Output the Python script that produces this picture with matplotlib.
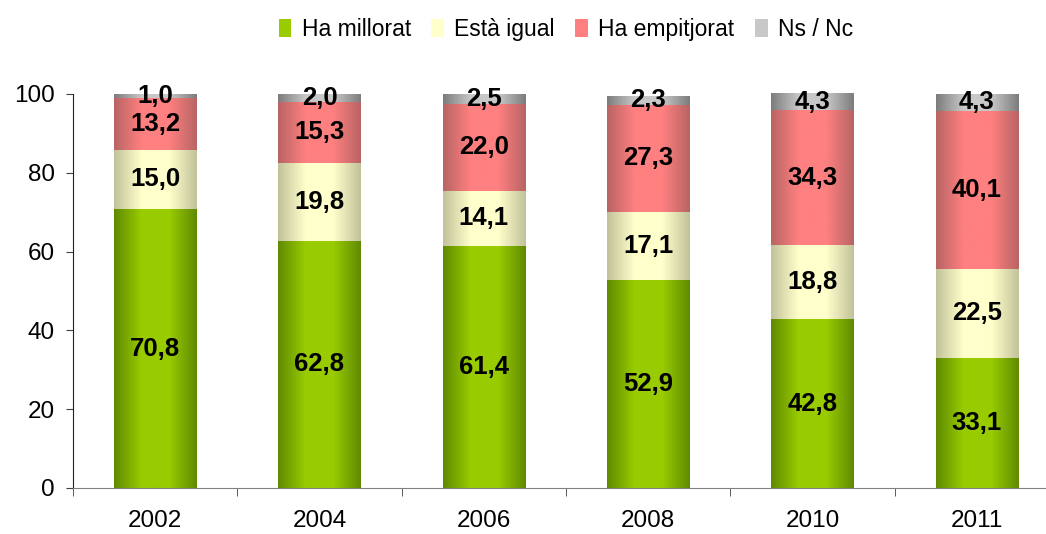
import numpy as np
import matplotlib
matplotlib.use('Agg')
import matplotlib.pyplot as plt
from matplotlib.colors import LinearSegmentedColormap
from matplotlib.patches import Patch

plt.rcParams['font.family'] = ['Liberation Sans', 'DejaVu Sans']

years = ['2002', '2004', '2006', '2008', '2010', '2011']
millorat = [70.8, 62.8, 61.4, 52.9, 42.8, 33.1]
igual = [15.0, 19.8, 14.1, 17.1, 18.8, 22.5]
empitjorat = [13.2, 15.3, 22.0, 27.3, 34.3, 40.1]
nsnc = [1.0, 2.0, 2.5, 2.3, 4.3, 4.3]
names = ['Ha millorat', 'Està igual', 'Ha empitjorat', 'Ns / Nc']

# (edge colour, centre colour) for the horizontal shading of each series
shades = [('#5f8a00', '#99cc00'),
          ('#c2c29a', '#ffffcc'),
          ('#b86464', '#ff8080'),
          ('#7c7c7c', '#c8c8c8')]

fig = plt.figure(figsize=(10.46, 5.34), dpi=100)
ax = fig.add_axes([73 / 1046, 46 / 534, 986 / 1046, 394 / 534])

x = np.arange(len(years))
grad = np.linspace(0, 1, 256).reshape(1, -1)
bottom = np.zeros(len(years))
for vals, (dark, light) in zip([millorat, igual, empitjorat, nsnc], shades):
    cmap = LinearSegmentedColormap.from_list('s', [dark, light, light, dark])
    bars = ax.bar(x, vals, 0.5, bottom=bottom, color=light, linewidth=0)
    for b in bars:
        x0, y0 = b.get_x(), b.get_y()
        im = ax.imshow(grad, cmap=cmap, aspect='auto',
                       extent=[x0, x0 + b.get_width(), y0, y0 + b.get_height()],
                       zorder=b.get_zorder())
        im.set_clip_path(b)
    for xi, b0, v in zip(x, bottom, vals):
        ax.text(xi, b0 + v / 2, f'{v:.1f}'.replace('.', ','), ha='center', va='center',
                fontsize=18.5, fontweight='bold', zorder=5)
    bottom = bottom + np.array(vals)

ax.set_xlim(-0.5, len(years) - 0.5)
ax.set_ylim(0, 100)
ax.set_yticks(range(0, 101, 20))
ax.tick_params(axis='y', labelsize=17.5, length=5, direction='out', color='#404040', pad=8)
ax.set_xticks(x)
ax.set_xticklabels(years)
ax.set_xticks(np.arange(-0.5, len(years)), minor=True)
ax.tick_params(axis='x', which='major', length=0, labelsize=17.5, pad=16)
ax.tick_params(axis='x', which='minor', length=6, direction='out', color='#404040')
for s in ['top', 'right']:
    ax.spines[s].set_visible(False)
ax.spines['left'].set_color('#202020')
ax.spines['bottom'].set_color('#808080')

handles = [Patch(facecolor=l, edgecolor='none') for d, l in shades]
fig.legend(handles, names, loc='upper center', bbox_to_anchor=(0.541, 1.005), ncol=4,
           frameon=False, fontsize=16.5, handlelength=0.55, handleheight=0.8,
           handletextpad=0.45, columnspacing=0.9)

fig.savefig('out.png', dpi=100)
